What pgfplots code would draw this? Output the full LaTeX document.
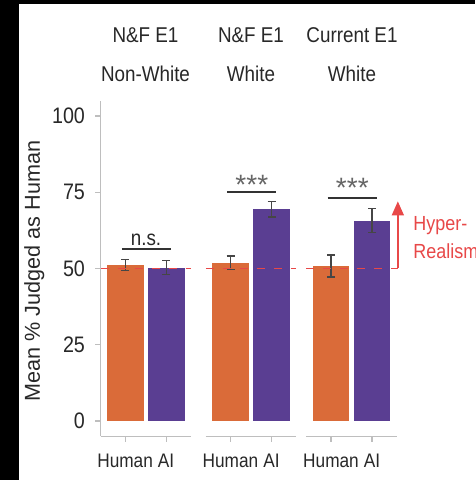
\documentclass[border=0pt]{standalone}
\usepackage{pgfplots}
\pgfplotsset{compat=1.18}
\usepackage{fontspec}
\setmainfont{Liberation Sans}[FakeStretch=0.88]
\newfontfamily\regfont{Liberation Sans}
\usetikzlibrary{arrows.meta}
\definecolor{barorange}{RGB}{218,107,57}
\definecolor{barpurple}{RGB}{90,62,146}
\definecolor{refred}{RGB}{232,72,72}
\definecolor{axisgray}{RGB}{190,190,190}
\definecolor{txt}{RGB}{40,40,40}
\definecolor{errgray}{RGB}{70,70,70}

\tikzset{sigline/.style={draw=black!80, line width=1pt}}
\pgfplotsset{
 panel/.style={
  scale only axis, width=45.1pt, height=167.75pt,
  xmin=-0.6, xmax=1.6, ymin=-5, ymax=105,
  anchor=south west,
  axis x line*=bottom, axis y line*=left,
  xtick={0,1}, xticklabels={Human,AI},
  ytick={0,25,50,75,100},
  tick align=outside, major tick length=2.75pt,
  axis line style={-, draw=axisgray, line width=0.6pt},
  every tick/.style={draw=axisgray, line width=0.6pt},
  xticklabel style={font=\fontsize{9.8}{10}\selectfont, text=txt, yshift=-2.5pt},
  yticklabel style={font=\fontsize{11.2}{12}\selectfont, text=txt, xshift=-1.5pt},
  /pgf/number format/assume math mode=true,
  clip=false,
  bar width=0.9,
 },
 ebar/.style={error bars/.cd, y dir=both, y explicit,
  error bar style={draw=errgray, line width=0.6pt},
  error mark options={draw=errgray, line width=0.6pt, mark size=2pt, rotate=90}},
 obar/.style={ybar, bar shift=0pt, fill=barorange, draw=none},
 pbar/.style={ybar, bar shift=0pt, fill=barpurple, draw=none},
 refline/.style={refred, line width=0.75pt, dash pattern=on 4pt off 4.5pt},
}

\begin{document}
\begin{tikzpicture}
\path[use as bounding box] (0,0) rectangle (237.5pt,240pt);
\fill[white] (0,0) rectangle (237.5pt,240pt);
\fill[black] (0,0) rectangle (9.5pt,240pt);
\fill[black] (0,238pt) rectangle (237.5pt,240pt);

% strip labels
\begin{scope}[every node/.style={font=\fontsize{10.7}{12}\selectfont, text=txt, anchor=base, inner sep=0pt}]
\node at (72.75pt,218.75pt) {N\&F E1};
\node at (72.75pt,199.25pt) {Non-White};
\node at (125.5pt,218.75pt) {N\&F E1};
\node at (125.5pt,199.25pt) {White};
\node at (176pt,218.75pt) {Current E1};
\node at (176pt,199.25pt) {White};
\end{scope}

% y label
\node[rotate=90, anchor=base, inner sep=0pt, font=\regfont\fontsize{10.8}{12}\selectfont, text=txt] at (20pt,104.5pt) {Mean \% Judged as Human};

% Panel 1: N&F E1 Non-White
\begin{axis}[panel, at={(50.25pt,21.875pt)}]
\addplot[obar, ebar] coordinates {(0,51.2) +- (0,1.8)};
\addplot[pbar, ebar] coordinates {(1,50.3) +- (0,2.2)};
\addplot[refline] coordinates {(-0.6,50) (1.6,50)};
\draw[sigline] (axis cs:-0.08,56.3) -- (axis cs:1.12,56.3);
\node[anchor=base, inner sep=0pt, font=\fontsize{10.7}{12}\selectfont, text=txt] at (axis cs:0.51,57.7) {n.s.};
\end{axis}

% Panel 2: N&F E1 White
\begin{axis}[panel, at={(102.95pt,21.875pt)}, axis y line=none]
\addplot[obar, ebar] coordinates {(0,51.9) +- (0,2.2)};
\addplot[pbar, ebar] coordinates {(1,69.4) +- (0,2.5)};
\addplot[refline] coordinates {(-0.6,50) (1.6,50)};
\draw[sigline] (axis cs:-0.08,75.2) -- (axis cs:1.12,75.2);
\node[anchor=base, inner sep=0pt, font=\regfont\fontsize{14}{16}\selectfont, text=black!60] at (axis cs:0.52,74.4) {***};
\end{axis}

% Panel 3: Current E1 White
\begin{axis}[panel, at={(153.2pt,21.875pt)}, axis y line=none]
\addplot[obar, ebar] coordinates {(0,50.8) +- (0,3.6)};
\addplot[pbar, ebar] coordinates {(1,65.7) +- (0,4.0)};
\addplot[refline] coordinates {(-0.6,50) (1.63,50)};
\draw[refred, line width=0.75pt, -{Triangle[width=6pt,length=7pt]}] (axis cs:1.63,50) -- (axis cs:1.63,72);
\draw[sigline] (axis cs:-0.08,73.2) -- (axis cs:1.12,73.2);
\node[anchor=base, inner sep=0pt, font=\regfont\fontsize{14}{16}\selectfont, text=black!60] at (axis cs:0.52,73.2) {***};
\node[anchor=base west, inner sep=0pt, font=\fontsize{10.2}{11}\selectfont, text=refred] at (axis cs:2.0,62.3) {Hyper-};
\node[anchor=base west, inner sep=0pt, font=\fontsize{10.2}{11}\selectfont, text=refred] at (axis cs:2.0,53.4) {Realism};
\end{axis}
\end{tikzpicture}
\end{document}
